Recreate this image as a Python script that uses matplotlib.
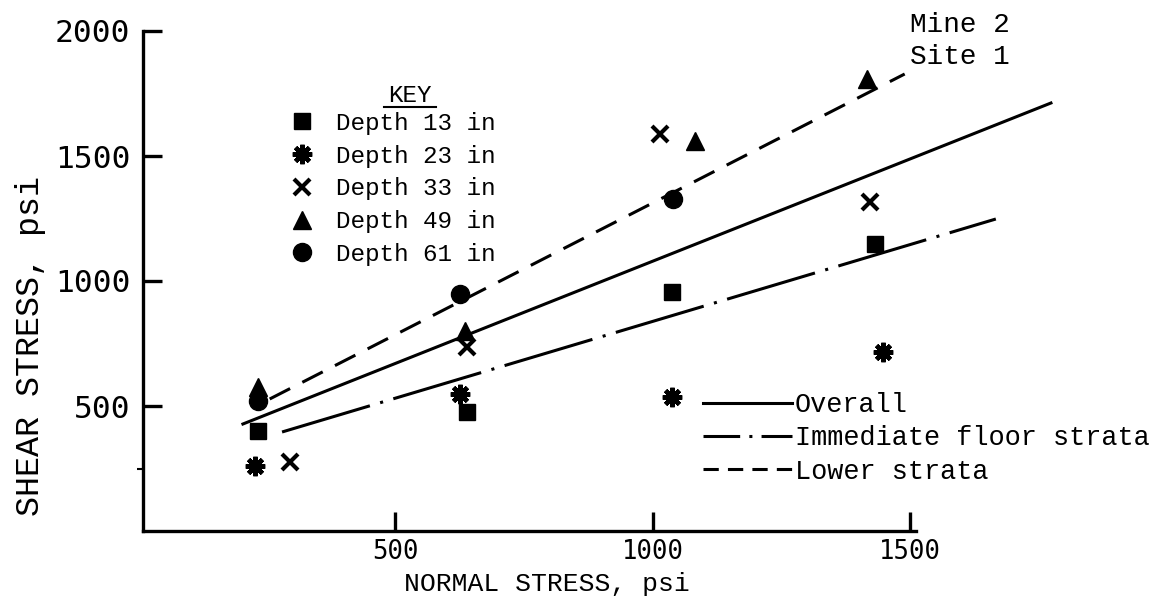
import numpy as np
import matplotlib
matplotlib.use('Agg')
import matplotlib.pyplot as plt
from matplotlib.lines import Line2D

# points (normal stress, shear stress in psi)
d13_x = [233, 639, 1037, 1431]
d13_y = [400, 476, 956, 1148]
d23_x = [227, 625, 1037, 1447]
d23_y = [260, 548, 536, 716]
d33_x = [295, 639, 1014, 1421]
d33_y = [276, 736, 1588, 1316]
d49_x = [233, 635, 1082, 1415]
d49_y = [576, 800, 1560, 1808]
d61_x = [233, 625, 1039]
d61_y = [520, 948, 1328]

# fitted lines, end points
overall_x = [204, 1773]
overall_y = [428, 1712]
floor_x = [280, 1666]
floor_y = [396, 1248]
lower_x = [256, 1489]
lower_y = [528, 1828]

key_labels = ['Depth 13 in', 'Depth 23 in', 'Depth 33 in', 'Depth 49 in', 'Depth 61 in']
line_labels = ['Overall', 'Immediate floor strata', 'Lower strata']

x_ticks = [500, 1000, 1500]
y_ticks = [500, 1000, 1500, 2000]

serif_mono = 'Liberation Mono'
sans_mono = 'DejaVu Sans Mono'

W, H = 1161, 602
fig = plt.figure(figsize=(W / 100, H / 100), dpi=100)
ax = fig.add_axes([143 / W, 1 - 531 / H, 957 / W, 500 / H])
ax.set_xlim(10, 10 + 957 / 0.515)
ax.set_ylim(0, 2000)

lw = 2.2
mk = dict(color='black', linestyle='none', clip_on=False)
ax.plot(d13_x, d13_y, marker='s', ms=11, **mk)
ax.plot(d23_x, d23_y, marker=(8, 2, 0), ms=14, mew=3.2, **mk)
ax.plot(d33_x, d33_y, marker='x', ms=11, mew=3, **mk)
ax.plot(d49_x, d49_y, marker='^', ms=13, **mk)
ax.plot(d61_x, d61_y, marker='o', ms=13, **mk)

ax.plot(overall_x, overall_y, color='black', lw=lw, clip_on=False)
ax.plot(floor_x, floor_y, color='black', lw=lw, clip_on=False,
        linestyle=(0, (30, 3.5, 1, 3.5)))
ax.plot(lower_x, lower_y, color='black', lw=lw, clip_on=False,
        linestyle=(0, (7.5, 4.5)))

# axes look
for s in ['top', 'right']:
    ax.spines[s].set_visible(False)
ax.spines['left'].set_linewidth(2.4)
ax.spines['bottom'].set_linewidth(2.4)
ax.spines['bottom'].set_bounds(10, 1510)
ax.set_xticks(x_ticks)
ax.set_yticks(y_ticks)
ax.set_yticks([250], minor=True)
ax.tick_params(which='major', direction='in', length=14, width=2.4)
ax.tick_params(which='minor', axis='y', direction='out', length=4, width=1.5)
ax.tick_params(axis='y', pad=9)
ax.tick_params(axis='x', pad=6)
for t in ax.get_yticklabels():
    t.set_fontfamily(sans_mono)
    t.set_fontsize(22.5)
for t in ax.get_xticklabels():
    t.set_fontfamily(sans_mono)
    t.set_fontsize(18.5)

ax.set_xlabel('NORMAL STRESS, psi', fontfamily=serif_mono, fontsize=19)
ax.xaxis.set_label_coords((547 - 143) / 957, (531 - 572) / 500)
ax.set_ylabel('SHEAR STRESS, psi', fontfamily=serif_mono, fontsize=24)
ax.yaxis.set_label_coords((46 - 143) / 957, (531 - 346) / 500)

# marker key
key_handles = [
    Line2D([], [], color='black', linestyle='none', marker='s', ms=11),
    Line2D([], [], color='black', linestyle='none', marker=(8, 2, 0), ms=14, mew=3.2),
    Line2D([], [], color='black', linestyle='none', marker='x', ms=11, mew=3),
    Line2D([], [], color='black', linestyle='none', marker='^', ms=13),
    Line2D([], [], color='black', linestyle='none', marker='o', ms=13),
]
leg1 = ax.legend(key_handles, key_labels, loc='upper left',
                 bbox_to_anchor=(290 / W, 1 - 112 / H), bbox_transform=fig.transFigure,
                 frameon=False, borderpad=0, borderaxespad=0, handlelength=1.0,
                 handletextpad=0.9, labelspacing=0.4,
                 prop={'family': serif_mono, 'size': 17.5})
ax.add_artist(leg1)
fig.text(410 / W, 1 - 95 / H, 'KEY', ha='center', va='center',
         fontfamily=serif_mono, fontsize=17.5)
fig.add_artist(Line2D([384 / W, 436 / W], [1 - 107 / H, 1 - 107 / H],
                      color='black', lw=1.5))

# line key
line_handles = [
    Line2D([], [], color='black', lw=lw),
    Line2D([], [], color='black', lw=lw, linestyle=(0, (12, 3, 1, 3))),
    Line2D([], [], color='black', lw=lw, linestyle=(0, (5, 3))),
]
ax.legend(line_handles, line_labels, loc='upper left',
          bbox_to_anchor=(703 / W, 1 - 392 / H), bbox_transform=fig.transFigure,
          frameon=False, borderpad=0, borderaxespad=0, handlelength=3.3,
          handletextpad=0.1, labelspacing=0.27,
          prop={'family': serif_mono, 'size': 19.4})

fig.text(910 / W, 1 - 25 / H, 'Mine 2', ha='left', va='center',
         fontfamily=serif_mono, fontsize=20)
fig.text(910 / W, 1 - 57 / H, 'Site 1', ha='left', va='center',
         fontfamily=serif_mono, fontsize=20)

fig.savefig('out.png', dpi=100)
